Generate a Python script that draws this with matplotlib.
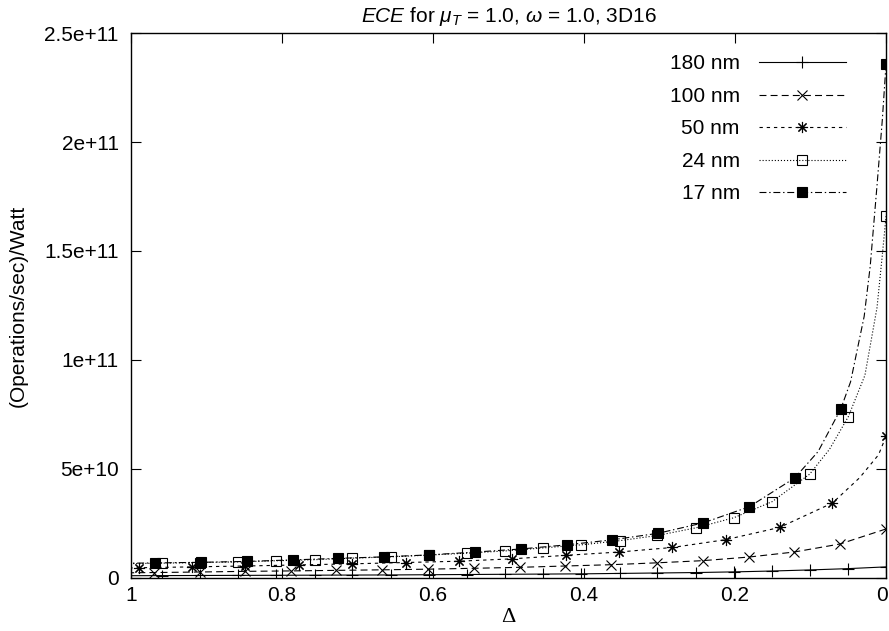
import matplotlib
matplotlib.use('Agg')
import matplotlib.pyplot as plt
import matplotlib.transforms as mtransforms
import numpy as np

plt.rcParams['font.family'] = ['Liberation Sans', 'DejaVu Sans']
plt.rcParams['mathtext.fontset'] = 'custom'
plt.rcParams['mathtext.rm'] = 'Liberation Sans'
plt.rcParams['mathtext.it'] = 'Liberation Sans:italic'
plt.rcParams['lines.scale_dashes'] = False

# Маркеры (Delta, значение)
d180 = [0.959, 0.909, 0.858, 0.808, 0.757, 0.707, 0.656, 0.606, 0.555, 0.505,
        0.454, 0.404, 0.353, 0.303, 0.252, 0.202, 0.151, 0.101, 0.050, 0.0]
v180 = [1.1e9, 1.15e9, 1.2e9, 1.25e9, 1.3e9, 1.35e9, 1.4e9, 1.5e9, 1.6e9, 1.7e9,
        1.8e9, 1.9e9, 2.1e9, 2.3e9, 2.5e9, 2.8e9, 3.2e9, 3.7e9, 4.3e9, 5.1e9]

d100 = [0.970, 0.909, 0.849, 0.788, 0.728, 0.667, 0.607, 0.546, 0.485, 0.425,
        0.364, 0.304, 0.243, 0.182, 0.122, 0.061, 0.0]
v100 = [2.5e9, 2.75e9, 3.05e9, 3.25e9, 3.5e9, 3.75e9, 4.05e9, 4.45e9, 4.9e9, 5.5e9,
        6.1e9, 6.95e9, 7.95e9, 9.6e9, 1.19e10, 1.56e10, 2.25e10]

d50 = [0.990, 0.919, 0.849, 0.778, 0.707, 0.636, 0.566, 0.495, 0.424, 0.354,
       0.283, 0.212, 0.141, 0.071, 0.0]
v50 = [4.7e9, 5.1e9, 5.5e9, 6.0e9, 6.5e9, 7.1e9, 7.7e9, 8.8e9, 1.04e10, 1.19e10,
       1.40e10, 1.76e10, 2.32e10, 3.44e10, 6.50e10]

d24 = list(d180)
v24 = [6.8e9, 7.1e9, 7.4e9, 7.9e9, 8.4e9, 9.1e9, 9.7e9, 1.05e10, 1.14e10, 1.24e10,
       1.38e10, 1.52e10, 1.71e10, 1.95e10, 2.30e10, 2.76e10, 3.50e10, 4.77e10, 7.40e10, 1.66e11]

d17 = [0.968, 0.907, 0.847, 0.786, 0.726, 0.665, 0.605, 0.544, 0.484, 0.423,
       0.363, 0.302, 0.242, 0.181, 0.121, 0.060, 0.0]
v17 = [6.9e9, 7.2e9, 7.6e9, 8.3e9, 9.0e9, 9.7e9, 1.06e10, 1.19e10, 1.33e10, 1.52e10,
       1.75e10, 2.05e10, 2.53e10, 3.27e10, 4.59e10, 7.75e10, 2.36e11]

# Точки кривых между маркерами (тоже)
c180 = ([1.0], [1.05e9])
c100 = ([1.0], [2.4e9])
c50 = ([1.0, 0.035, 0.010], [4.6e9, 4.6e10, 5.65e10])
c24 = ([1.0, 0.075, 0.028, 0.012, 0.005], [6.6e9, 5.9e10, 9.3e10, 1.24e11, 1.48e11])
c17 = ([1.0, 0.09, 0.047, 0.029, 0.021, 0.012, 0.005],
       [6.8e9, 5.8e10, 9.0e10, 1.20e11, 1.43e11, 1.80e11, 2.10e11])

labels = ['180 nm', '100 nm', '50 nm', '24 nm', '17 nm']
yticks = [0, 5e10, 1e11, 1.5e11, 2e11, 2.5e11]
ytick_labels = ['0', '5e+10', '1e+11', '1.5e+11', '2e+11', '2.5e+11']
xticks = [1, 0.8, 0.6, 0.4, 0.2, 0]
xtick_labels = ['1', '0.8', '0.6', '0.4', '0.2', '0']


def merge(dm, vm, extra):
    """Объединяет маркеры и точки кривой, возвращает индексы маркеров."""
    d = np.array(list(dm) + list(extra[0]))
    v = np.array(list(vm) + list(extra[1]))
    order = np.argsort(d)
    rank = np.empty_like(order)
    rank[order] = np.arange(len(order))
    return d[order], v[order], sorted(rank[:len(dm)].tolist())


styles = [
    dict(marker='+', ms=8, dashes=()),
    dict(marker='x', ms=7, dashes=(5, 3)),
    dict(marker=(8, 2, 0), ms=8, dashes=(2.4, 2.8)),
    dict(marker='s', ms=6.5, mfc='none', dashes=(0.8, 1.4)),
    dict(marker='s', ms=7, mfc='k', dashes=(5, 2, 1, 2)),
]
series = [(d180, v180, c180), (d100, v100, c100), (d50, v50, c50),
          (d24, v24, c24), (d17, v17, c17)]

fig = plt.figure(figsize=(8.89, 6.31), dpi=100)
ax = fig.add_axes([0.1474, 0.0840, 0.8493, 0.8637])

for (dm, vm, extra), st, lab in zip(series, styles, labels):
    d, v, idx = merge(dm, vm, extra)
    st = dict(st)
    dashes = st.pop('dashes')
    line, = ax.plot(d, v, color='k', lw=0.8, mec='k', mew=0.8,
                    markevery=idx, label=lab, **st)
    if dashes:
        line.set_dashes(dashes)

ax.set_xlim(1, 0)
ax.set_ylim(0, 2.5e11)
ax.set_xticks(xticks)
ax.set_xticklabels(xtick_labels)
ax.set_yticks(yticks)
ax.set_yticklabels(ytick_labels)
ax.tick_params(direction='in', top=True, right=True, length=7, width=0.8,
               labelsize=15, colors='k')
ax.tick_params(axis='y', pad=9)
ax.tick_params(axis='x', pad=6)
for s in ax.spines.values():
    s.set_linewidth(1.0)

# последняя подпись у правого края - чуть сдвинуть, чтобы не обрезалась
last = ax.get_xticklabels()[-1]
last.set_transform(last.get_transform() +
                   mtransforms.ScaledTranslation(-4 / 100, 0, fig.dpi_scale_trans))

ax.set_title(r'$\mathit{ECE}$ for $\mu_T$ = 1.0, $\omega$ = 1.0, 3D16', fontsize=15, pad=8)
ax.set_xlabel('Δ', fontsize=16, family='Liberation Serif', labelpad=2)
ax.set_ylabel('(Operations/sec)/Watt', fontsize=15, labelpad=12)

ax.legend(loc='upper right', bbox_to_anchor=(0.947, 0.961), frameon=False,
          markerfirst=False, fontsize=15, handlelength=4.2, handletextpad=0.9,
          borderpad=0, borderaxespad=0, labelspacing=0.65, numpoints=1)

fig.savefig('out.png', dpi=100)
